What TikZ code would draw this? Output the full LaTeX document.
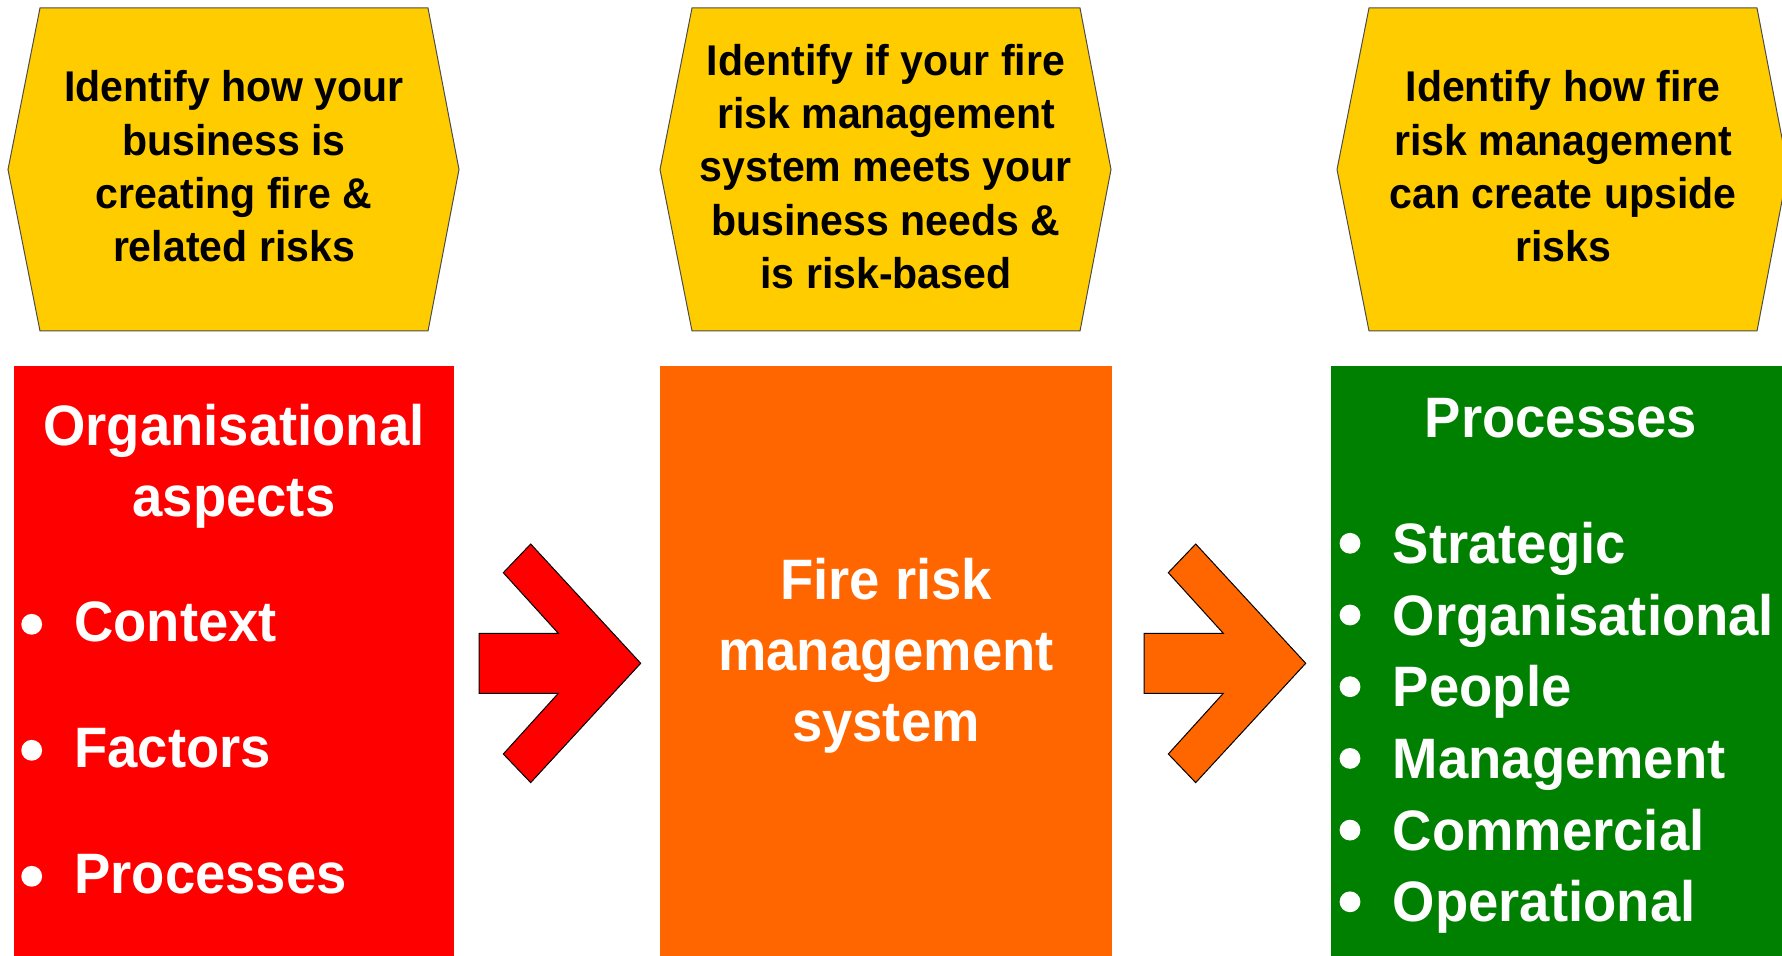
\documentclass[tikz,border=0pt]{standalone}
\usepackage{fontspec}
\setmainfont{Liberation Sans}[FakeStretch=0.955]
\definecolor{hexyellow}{HTML}{FFCC00}
\definecolor{riskred}{HTML}{FF0000}
\definecolor{riskorange}{HTML}{FF6600}
\definecolor{riskgreen}{HTML}{008000}
\tikzset{
  hexfill/.style={fill=hexyellow,draw=black!70,line width=0.5pt},
  panel/.style={rectangle,inner sep=0pt,anchor=north west,minimum height=297pt},
  hextext/.style={anchor=north,inner sep=0pt,align=center,font=\bfseries\fontsize{21.5}{26.65}\selectfont},
  paneltext/.style={anchor=north,inner sep=0pt,align=center,text=white,font=\bfseries\fontsize{28.5}{35.6}\selectfont},
  itemtext/.style={anchor=base west,inner sep=0pt,text=white,font=\bfseries\fontsize{28.5}{34}\selectfont},
  bulletdot/.style={circle,fill=white,inner sep=0pt,minimum size=10.4pt},
  chevron/.style={draw=black,line width=0.5pt}
}

\begin{document}
\begin{tikzpicture}[x=0.5pt,y=-0.5pt]
\useasboundingbox (0,0) rectangle (1782,956);
\clip (0,0) rectangle (1782,956);
% yellow hexagons
\foreach \dx in {0,652,1329}
  \draw[hexfill,shift={(\dx,0)}] (40,8) -- (428,8) -- (459,169.5) -- (428,331) -- (40,331) -- (8,169.5) -- cycle;
\node[hextext] (ask1) at (234,70.4) {Identify how your\\business is\\creating fire \&\\related risks};
\node[hextext] (ask2) at (886,43.7) {Identify if your fire\\risk management\\system meets your\\business needs \&\\is risk-based};
\node[hextext] (ask3) at (1563,70.4) {Identify how fire\\risk management\\can create upside\\risks};
% coloured panels
\node[panel,fill=riskred,minimum width=220pt] (org) at (14,366) {};
\node[panel,fill=riskorange,minimum width=226pt] (frm) at (660,366) {};
\node[panel,fill=riskgreen,minimum width=225.5pt] (proc) at (1331,366) {};
\node[paneltext] (orgtitle) at (234,403.8) {Organisational\\aspects};
\node[paneltext] (frmtitle) at (886,557.5) {Fire risk\\management\\system};
\node[paneltext,anchor=base] (proctitle) at (1561,437.3) {Processes};
\foreach \txt [count=\i from 0] in {Context,Factors,Processes} {
  \node[bulletdot] (orgdot\i) at (31.7,624.3+126*\i) {};
  \node[itemtext] (orgitem\i) at (74,641.7+126*\i) {\txt};
}
\foreach \txt [count=\i from 0] in {Strategic,Organisational,People,Management,Commercial,Operational} {
  \node[bulletdot] (procdot\i) at (1350,543.3+71.7*\i) {};
  \node[itemtext] (procitem\i) at (1392.5,563.3+71.7*\i) {\txt};
}
% arrows between panels
\foreach \dx/\col in {0/riskred,665/riskorange}
  \draw[chevron,fill=\col,shift={(\dx,0)}] (479,633.3) -- (558.3,633.3) -- (503.3,572.7) -- (530.7,544) -- (640.7,663.3) -- (530.7,782.6) -- (503.3,754) -- (558.3,693.3) -- (479,693.3) -- cycle;
\end{tikzpicture}
\end{document}
